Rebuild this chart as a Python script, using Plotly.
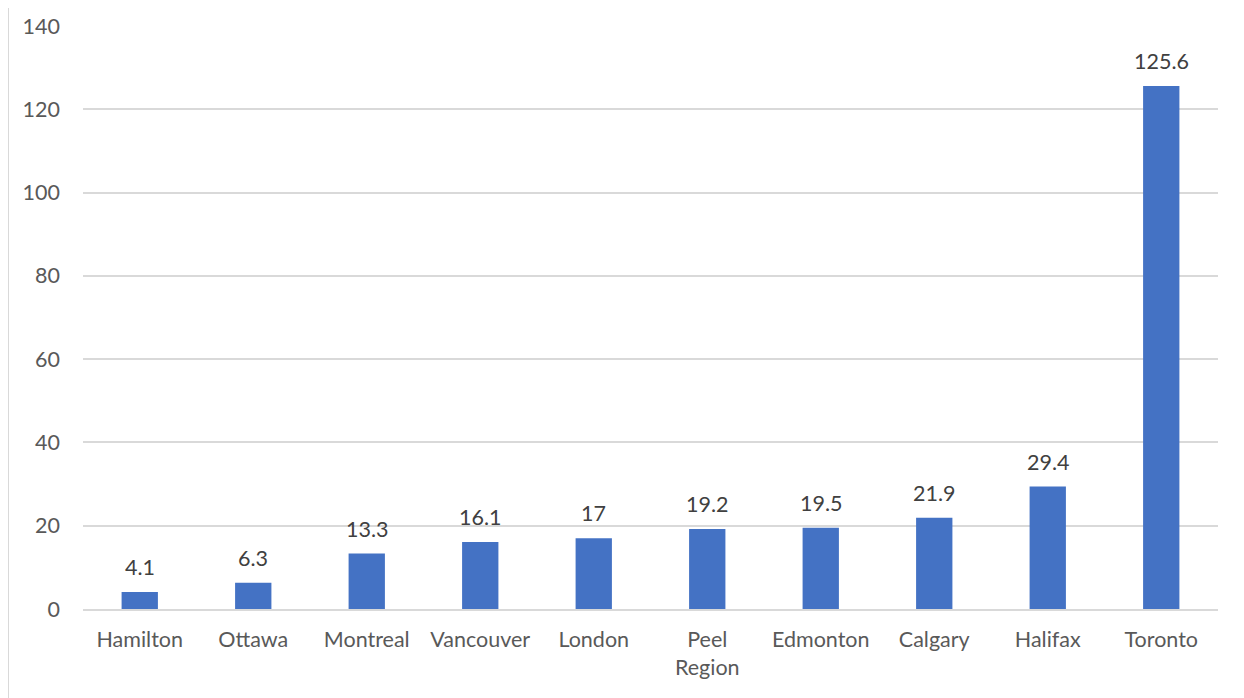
import plotly.graph_objects as go

cities = ["Hamilton", "Ottawa", "Montreal", "Vancouver", "London",
          "Peel<br>Region", "Edmonton", "Calgary", "Halifax", "Toronto"]
values = [4.1, 6.3, 13.3, 16.1, 17, 19.2, 19.5, 21.9, 29.4, 125.6]
y_ticks = [0, 20, 40, 60, 80, 100, 120, 140]

fig = go.Figure(go.Bar(
    x=cities,
    y=values,
    marker=dict(color="#4472C4", line=dict(width=0)),
))

# value labels above the bars
for c, v in zip(cities, values):
    fig.add_annotation(x=c, y=v, text=str(v), showarrow=False,
                       yanchor="bottom", yshift=10,
                       font=dict(color="#404040", size=21.5))

fig.update_layout(
    width=1244,
    height=698,
    margin=dict(l=75, r=34, t=18, b=97),
    plot_bgcolor="white",
    paper_bgcolor="white",
    font=dict(family="Lato, Open Sans, sans-serif", size=21.5, color="#595959"),
    bargap=0.68,
    showlegend=False,
    xaxis=dict(showgrid=False, ticks="", showline=True, linecolor="#d9d9d9",
               linewidth=1.5, ticklabelstandoff=10, automargin=False),
    yaxis=dict(range=[0, 140], tickvals=y_ticks, showgrid=True,
               gridcolor="#d9d9d9", gridwidth=1.5, zeroline=False,
               showline=False, ticks="", ticklabelstandoff=22,
               automargin=False),
    shapes=[dict(type="line", xref="paper", yref="paper",
                 x0=-75 / 1135, x1=-75 / 1135, y0=-0.2, y1=1.1,
                 line=dict(color="#d9d9d9", width=2))],
)

fig.write_html("out.html")
